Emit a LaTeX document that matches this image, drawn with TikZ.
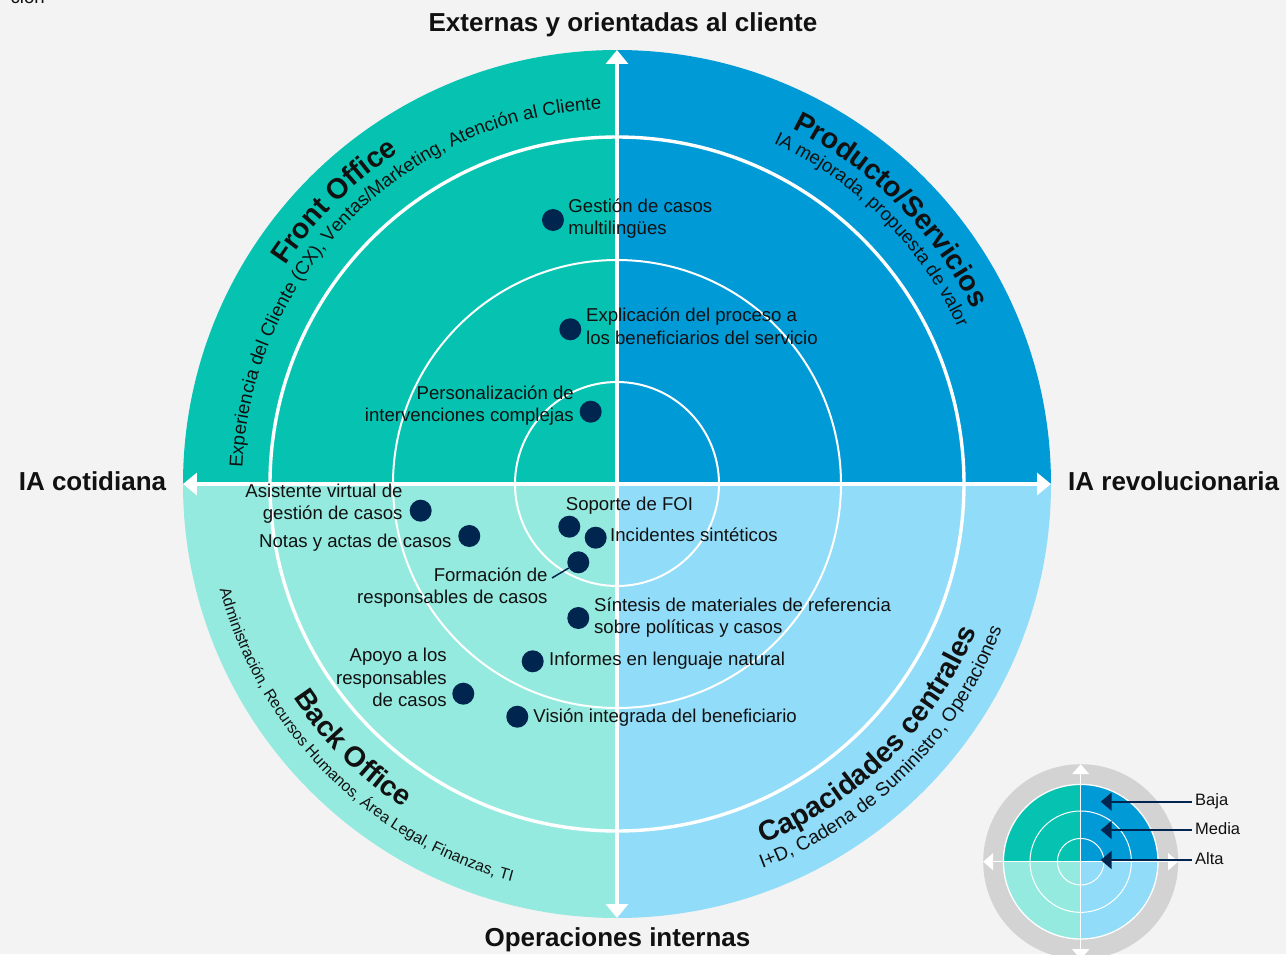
\documentclass[tikz,border=0pt]{standalone}
\usepackage{fontspec}
\setmainfont{Liberation Sans}
\usetikzlibrary{arrows.meta,decorations.text}
\definecolor{bg}{HTML}{F3F3F3}
\definecolor{qTL}{HTML}{06C3B1}
\definecolor{qTR}{HTML}{009AD7}
\definecolor{qBL}{HTML}{95EADF}
\definecolor{qBR}{HTML}{91DCF8}
\definecolor{navy}{HTML}{00264F}
\definecolor{txt}{HTML}{111111}
\definecolor{ring}{HTML}{D3D3D3}
\newcommand{\fbody}{\fontsize{18.6}{22.5}\selectfont}
\newcommand{\fsub}{\fontsize{18.7}{22}\selectfont}
\newcommand{\fsubsmall}{\fontsize{15.8}{19}\selectfont}
\newcommand{\fsubbig}{\fontsize{19.1}{22}\selectfont}
\newcommand{\fquad}{\fontsize{28.5}{30}\selectfont\bfseries}
\newcommand{\faxis}{\fontsize{26}{28}\selectfont\bfseries}
\newcommand{\fleg}{\fontsize{16.5}{20}\selectfont}
\begin{document}
\begin{tikzpicture}[x=1pt,y=1pt,
  dot/.style={circle,fill=navy,inner sep=0pt,minimum size=22pt},
  lbl/.style={font=\fbody,text=txt,inner sep=0pt},
  ttl/.style={font=\faxis,text=txt,inner sep=0pt},
  legl/.style={font=\fleg,text=txt,inner sep=0pt},
  axisline/.style={white,line width=3.3pt,arrows={Triangle[length=14pt,width=22pt]-Triangle[length=14pt,width=22pt]}},
  legaxis/.style={white,line width=1.5pt,arrows={Triangle[length=10pt,width=17pt]-Triangle[length=10pt,width=17pt]}},
  legarrow/.style={navy,line width=2pt,arrows={-Triangle[length=11pt,width=18pt]},shorten <=3.3pt},
  conn/.style={navy,line width=1.5pt},
  curved/.style={decorate,decoration={text along path,text align=center,text={#1}}}
]
\useasboundingbox (-617,-470) rectangle (669,484);
\clip (-617,-470) rectangle (669,484);
\fill[bg] (-617,-470) rectangle (669,484);

% fragment at top-left
\node[lbl,anchor=base east] (frag) at (-572,480) {ción};

% quadrants
\fill[qTL] (0,0) -- (0,434) arc[start angle=90,end angle=180,radius=434] -- cycle;
\fill[qTR] (0,0) -- (434,0) arc[start angle=0,end angle=90,radius=434] -- cycle;
\fill[qBL] (0,0) -- (-434,0) arc[start angle=180,end angle=270,radius=434] -- cycle;
\fill[qBR] (0,0) -- (0,-434) arc[start angle=270,end angle=360,radius=434] -- cycle;

% rings
\draw[white,line width=3.4pt] (0,0) circle[radius=347];
\draw[white,line width=2pt] (0,0) circle[radius=224];
\draw[white,line width=2pt] (0,0) circle[radius=102];

% axes
\draw[axisline] (-434,0) -- (434,0);
\draw[axisline] (0,-434) -- (0,434);

% curved quadrant texts
\path[curved={|\fquad\color{txt}|Front Office}] (180:397) arc[start angle=180,end angle=90,radius=397];
\path[curved={|\fsub\color{txt}|Experiencia del Cliente (CX), Ventas/Marketing, Atención al Cliente}] (180:375) arc[start angle=180,end angle=90,radius=375];
\path[curved={|\fquad\color{txt}|Producto/Servicios}] (90:396) arc[start angle=90,end angle=0,radius=396];
\path[curved={|\fsub\color{txt}|IA mejorada, propuesta de valor}] (90:375) arc[start angle=90,end angle=0,radius=375];
\path[curved={|\fquad\color{txt}|Back Office}] (180:388) arc[start angle=180,end angle=270,radius=388];
\path[curved={|\fsubsmall\color{txt}|Administración, Recursos Humanos, Área Legal, Finanzas, TI}] (180:411) arc[start angle=180,end angle=270,radius=411];
\path[curved={|\fquad\color{txt}|Capacidades centrales}] (270:388) arc[start angle=270,end angle=360,radius=388];
\path[curved={|\fsubbig\color{txt}|I+D, Cadena de Suministro, Operaciones}] (270:411) arc[start angle=270,end angle=360,radius=411];

% axis titles
\node[ttl,anchor=base] (ttop) at (6,452) {Externas y orientadas al cliente};
\node[ttl,anchor=base] (tleft) at (-524.5,-6) {IA cotidiana};
\node[ttl,anchor=base west] (tright) at (451,-6) {IA revolucionaria};
\node[ttl,anchor=base] (tbottom) at (0.5,-462.7) {Operaciones internas};

% dots
\node[dot] (d1) at (-64,264) {};
\node[dot] (d2) at (-46.7,154.7) {};
\node[dot] (d3) at (-26.3,72.3) {};
\node[dot] (d4) at (-196.3,-26.7) {};
\node[dot] (d5) at (-147.7,-52) {};
\node[dot] (d6) at (-47.7,-42.7) {};
\node[dot] (d7) at (-21.3,-53.7) {};
\node[dot] (d8) at (-38.7,-78.3) {};
\node[dot] (d9) at (-38.7,-134) {};
\node[dot] (d10) at (-84.3,-177.3) {};
\node[dot] (d11) at (-153.7,-209.7) {};
\node[dot] (d12) at (-99.7,-232.7) {};

% labels
\node[lbl,anchor=west,align=left] (l1) at (-48.7,265.1) {\strut Gestión de casos\\\strut multilingües};
\node[lbl,anchor=west,align=left] (l2) at (-31,155.5) {\strut Explicación del proceso a\\\strut los beneficiarios del servicio};
\node[lbl,anchor=east,align=right] (l3) at (-43,78) {\strut Personalización de\\\strut intervenciones complejas};
\node[lbl,anchor=east,align=right] (l4) at (-214.3,-20) {\strut Asistente virtual de\\\strut gestión de casos};
\node[lbl,anchor=east] (l5) at (-165.3,-59) {\strut Notas y actas de casos};
\node[lbl,anchor=west] (l6) at (-51.3,-21.7) {\strut Soporte de FOI};
\node[lbl,anchor=west] (l7) at (-7,-52.7) {\strut Incidentes sintéticos};
\node[lbl,anchor=east,align=right] (l8) at (-69.3,-104) {\strut Formación de\\\strut responsables de casos};
\node[lbl,anchor=west,align=left] (l9) at (-23,-134) {\strut Síntesis de materiales de referencia\\\strut sobre políticas y casos};
\node[lbl,anchor=west] (l10) at (-68,-177) {\strut Informes en lenguaje natural};
\node[lbl,anchor=east,align=right] (l11) at (-170,-195.8) {\strut Apoyo a los\\\strut responsables\\\strut de casos};
\node[lbl,anchor=west] (l12) at (-83.7,-234.3) {\strut Visión integrada del beneficiario};

% connector for Formación
\coordinate (fcon) at (-65,-94);
\draw[conn] (d8) -- (fcon);

% legend
\begin{scope}[shift={(463.7,-377.7)}]
  \fill[ring] (0,0) circle[radius=97.5];
  \fill[qTL] (0,0) -- (0,77.3) arc[start angle=90,end angle=180,radius=77.3] -- cycle;
  \fill[qTR] (0,0) -- (77.3,0) arc[start angle=0,end angle=90,radius=77.3] -- cycle;
  \fill[qBL] (0,0) -- (-77.3,0) arc[start angle=180,end angle=270,radius=77.3] -- cycle;
  \fill[qBR] (0,0) -- (0,-77.3) arc[start angle=270,end angle=360,radius=77.3] -- cycle;
  \draw[white,line width=1.3pt] (0,0) circle[radius=77.3];
  \draw[white,line width=1pt] (0,0) circle[radius=50.7];
  \draw[white,line width=1pt] (0,0) circle[radius=23.3];
  \draw[legaxis] (-97.5,0) -- (97.5,0);
  \draw[legaxis] (0,-97.5) -- (0,97.5);
\end{scope}
\coordinate (tbaja) at (483.7,-317.7);
\coordinate (tmedia) at (483.7,-346);
\coordinate (talta) at (483.7,-376);
\node[legl,anchor=west] (baja) at (578,-317.7) {\strut Baja};
\node[legl,anchor=west] (media) at (578,-346) {\strut Media};
\node[legl,anchor=west] (alta) at (578,-376) {\strut Alta};
\draw[legarrow] (baja.west) -- (tbaja);
\draw[legarrow] (media.west) -- (tmedia);
\draw[legarrow] (alta.west) -- (talta);
\end{tikzpicture}
\end{document}
